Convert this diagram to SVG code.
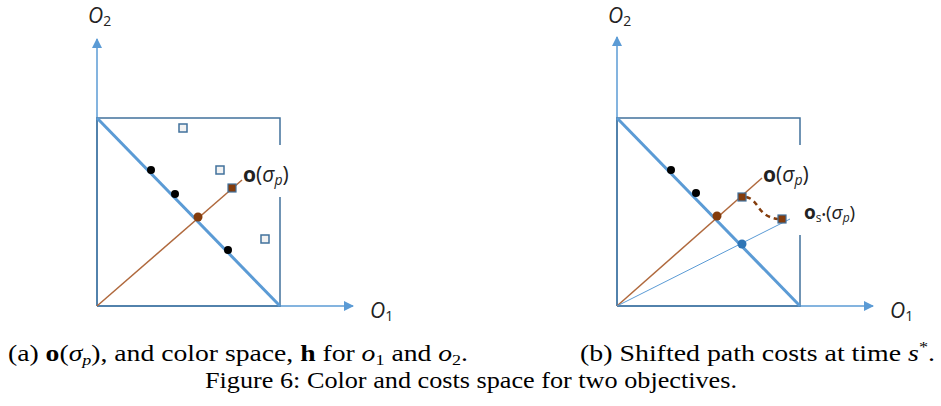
<svg xmlns="http://www.w3.org/2000/svg" width="941" height="406" viewBox="0 0 941 406">
<style>
.axis{stroke:#5b9bd5;stroke-width:1.5;fill:none}
.box{stroke:#41719c;stroke-width:1.5;fill:none}
.diag{stroke:#5b9bd5;stroke-width:3;fill:none}
.ray{stroke:#b0693d;stroke-width:1.5;fill:none}
.ray2{stroke:#5b9bd5;stroke-width:1;fill:none}
.dash{stroke:#843c0c;stroke-width:2.5;fill:none;stroke-dasharray:5 4}
.blk{fill:#000}
.bdot{fill:#843c0c}
.udot{fill:#2e75b6}
.bsq{fill:#843c0c;stroke:#41719c;stroke-width:1.2}
.osq{fill:#f2f2f2;stroke:#41719c;stroke-width:1.5}
.lab{font-family:"Open Sans","Liberation Sans",sans-serif;font-size:21px;fill:#222}
.lab2{font-family:"Open Sans","Liberation Sans",sans-serif;font-size:19px;fill:#222}
.cap{font-family:"Liberation Serif","DejaVu Serif",serif;font-size:23px;fill:#000}
</style>
<defs>
<marker id="arr" viewBox="0 0 10 10" refX="9" refY="5" markerWidth="10" markerHeight="10" markerUnits="userSpaceOnUse" orient="auto">
<path d="M0,0 L10,5 L0,10 Z" fill="#5b9bd5"/>
</marker>
</defs>

<g id="panel-a">
<g id="a-axes">
<line class="axis" x1="97" y1="306" x2="97" y2="39" marker-end="url(#arr)"/>
<line class="axis" x1="97" y1="306" x2="353" y2="306" marker-end="url(#arr)"/>
<text class="lab" x="88" y="23" font-style="italic">O<tspan font-size="14" dy="3" font-style="normal">2</tspan></text>
<text class="lab" x="370" y="318" font-style="italic">O<tspan font-size="14" dy="3" font-style="normal">1</tspan></text>
</g>
<g id="a-box">
<polyline class="box" points="97,306 97,118 280,118 280,145"/>
<polyline class="box" points="280,197 280,306 97,306"/>
</g>
<g id="a-lines">
<line class="diag" x1="97" y1="118" x2="280" y2="306"/>
<line class="ray" x1="97" y1="306" x2="242" y2="180"/>
</g>
<g id="a-points">
<circle class="blk" cx="151" cy="170" r="4"/>
<circle class="blk" cx="175" cy="194" r="4"/>
<circle class="blk" cx="228" cy="250" r="4"/>
<circle class="bdot" cx="198" cy="217" r="4.5"/>
<rect class="bsq" x="228" y="184" width="8" height="8"/>
<rect class="osq" x="179" y="124" width="8" height="8"/>
<rect class="osq" x="216" y="166" width="8" height="8"/>
<rect class="osq" x="261" y="235" width="8" height="8"/>
</g>
<g id="a-label">
<text class="lab" x="243" y="182"><tspan font-weight="bold">o</tspan>(<tspan font-style="italic">σ</tspan><tspan font-size="14" dy="3" font-style="italic">p</tspan><tspan dy="-3">)</tspan></text>
</g>
</g>

<g id="panel-b">
<g id="b-axes">
<line class="axis" x1="617" y1="306" x2="617" y2="37" marker-end="url(#arr)"/>
<line class="axis" x1="617" y1="306" x2="873" y2="306" marker-end="url(#arr)"/>
<text class="lab" x="608" y="23" font-style="italic">O<tspan font-size="14" dy="3" font-style="normal">2</tspan></text>
<text class="lab" x="890" y="318" font-style="italic">O<tspan font-size="14" dy="3" font-style="normal">1</tspan></text>
</g>
<g id="b-box">
<polyline class="box" points="617,306 617,118 800,118 800,145"/>
<polyline class="box" points="800,235 800,306 617,306"/>
</g>
<g id="b-lines">
<line class="diag" x1="617" y1="118" x2="800" y2="306"/>
<line class="ray" x1="617" y1="306" x2="762" y2="178"/>
<line class="ray2" x1="617" y1="306" x2="790" y2="219"/>
<path class="dash" d="M746,197 C760,200 756,216 778,219"/>
</g>
<g id="b-points">
<circle class="blk" cx="671" cy="170" r="4"/>
<circle class="blk" cx="696" cy="193" r="4"/>
<circle class="bdot" cx="717" cy="216" r="4.5"/>
<circle class="udot" cx="742" cy="244" r="4.5"/>
<rect class="bsq" x="738" y="193" width="8" height="8"/>
<rect class="bsq" x="778" y="215" width="8" height="8"/>
</g>
<g id="b-labels">
<text class="lab" x="763" y="182"><tspan font-weight="bold">o</tspan>(<tspan font-style="italic">σ</tspan><tspan font-size="14" dy="3" font-style="italic">p</tspan><tspan dy="-3">)</tspan></text>
<text class="lab2" x="804" y="219"><tspan font-weight="bold">o</tspan><tspan font-size="12" dy="3">s</tspan><tspan font-size="12" dy="-3">•</tspan>(<tspan font-style="italic">σ</tspan><tspan font-size="12" dy="3" font-style="italic">p</tspan><tspan dy="-3">)</tspan></text>
</g>
</g>

<g id="captions">
<text class="cap" x="8" y="361" textLength="460" lengthAdjust="spacingAndGlyphs">(a) <tspan font-weight="bold">o</tspan>(<tspan font-style="italic">σ</tspan><tspan font-style="italic" font-size="15" dy="4">p</tspan><tspan dy="-4">), and color space, </tspan><tspan font-weight="bold">h</tspan> for <tspan font-style="italic">o</tspan><tspan font-size="15" dy="4">1</tspan><tspan dy="-4"> and </tspan><tspan font-style="italic">o</tspan><tspan font-size="15" dy="4">2</tspan><tspan dy="-4">.</tspan></text>
<text class="cap" x="580" y="361" textLength="355" lengthAdjust="spacingAndGlyphs">(b) Shifted path costs at time <tspan font-style="italic">s</tspan><tspan font-size="15" dy="-9">*</tspan><tspan dy="9">.</tspan></text>
<text class="cap" x="205" y="388" textLength="532" lengthAdjust="spacingAndGlyphs">Figure 6: Color and costs space for two objectives.</text>
</g>
</svg>
